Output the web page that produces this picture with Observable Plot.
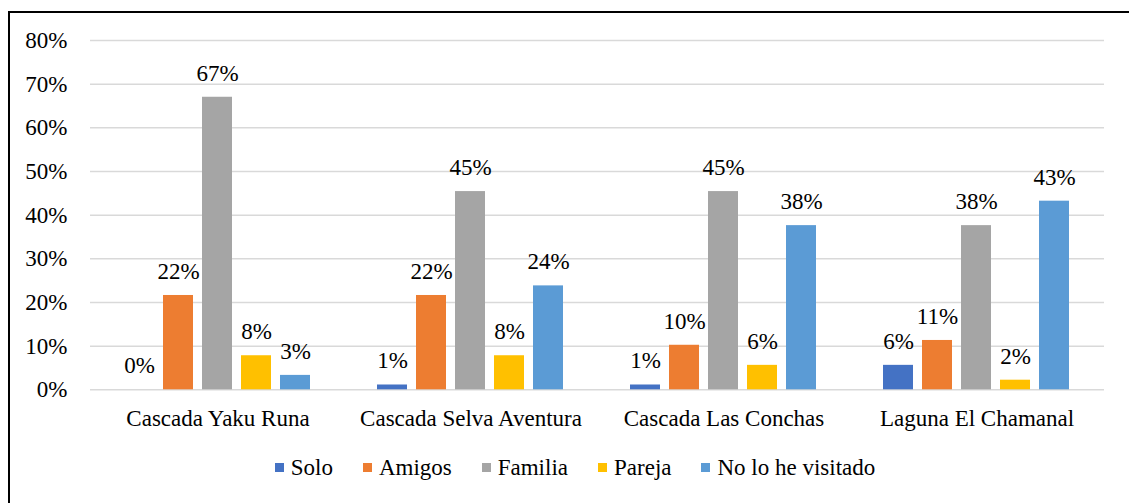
<!DOCTYPE html>
<html>
<head>
<meta charset="utf-8">
<script src="https://cdn.jsdelivr.net/npm/d3@7"></script>
<script src="https://cdn.jsdelivr.net/npm/@observablehq/plot@0.6"></script>
<style>
  html, body { margin: 0; padding: 0; background: #fff; overflow: hidden; }
  #page { position: relative; width: 1129px; height: 503px; overflow: hidden; }
  #frame { position: absolute; left: 8px; top: 11px; width: 1300px; height: 700px; border: 2px solid #000; box-sizing: border-box; }
  .layer { position: absolute; left: 0; top: 0; }
  #legend { position: absolute; left: 0; top: 451px; width: 1180px; display: flex; justify-content: center; }
  #legend, #legend * { font-family: "Liberation Serif", "Times New Roman", serif !important; font-size: 23px !important; color: #000 !important; }
  #legend > div { justify-content: center; }
  #legend span { margin-right: 30px !important; }
  #legend span > svg { margin-right: 7px !important; }
</style>
</head>
<body>
<div id="page">
  <div id="frame"></div>
  <div id="grid" class="layer"></div>
  <div id="chart" class="layer"></div>
  <div id="legend"></div>
</div>
<script>
const categories = ["Cascada Yaku Runa", "Cascada Selva Aventura", "Cascada Las Conchas", "Laguna El Chamanal"];
const seriesNames = ["Solo", "Amigos", "Familia", "Pareja", "No lo he visitado"];
const seriesColors = ["#4472C4", "#ED7D31", "#A5A5A5", "#FFC000", "#5B9BD5"];
const solo = [0, 1.1, 1.1, 5.6];
const amigos = [21.6, 21.6, 10.2, 11.3];
const familia = [67.0, 45.4, 45.4, 37.6];
const pareja = [7.8, 7.8, 5.6, 2.2];
const noVisitado = [3.3, 23.8, 37.6, 43.2];
const yTicks = [0, 10, 20, 30, 40, 50, 60, 70, 80];

const seriesValues = [solo, amigos, familia, pareja, noVisitado];
const data = [];
categories.forEach((c, i) => {
  seriesNames.forEach((s, j) => {
    data.push({cat: c, series: s, value: seriesValues[j][i]});
  });
});

const font = "Liberation Serif";
const fs = 23;
const common = {
  width: 1129,
  height: 440,
  marginLeft: 90,
  marginRight: 25,
  marginTop: 40,
  marginBottom: 50.7,
  style: {fontFamily: font, fontSize: fs + "px", color: "#000", background: "transparent", overflow: "visible"}
};

const grid = Plot.plot({
  ...common,
  x: {domain: categories, axis: null},
  y: {domain: [0, 80], label: null},
  marks: [
    Plot.ruleY(yTicks, {stroke: "#d9d9d9", strokeWidth: 1.5}),
    Plot.axisY(yTicks, {tickFormat: d => d + "%", tickSize: 0, tickPadding: 23, label: null, fontSize: fs, fontFamily: font, fill: "#000"})
  ]
});
document.getElementById("grid").appendChild(grid);

const chart = Plot.plot({
  ...common,
  fx: {domain: categories, paddingInner: 0.23, paddingOuter: 0.115, label: null},
  x: {domain: seriesNames, paddingInner: 0.23, paddingOuter: 0.115, axis: null},
  y: {domain: [0, 80], axis: null},
  color: {domain: seriesNames, range: seriesColors},
  marks: [
    Plot.axisFx({anchor: "bottom", tickSize: 0, tickPadding: 20, label: null, fontSize: fs, fontFamily: font, fill: "#000"}),
    Plot.barY(data, {fx: "cat", x: "series", y: "value", fill: "series"}),
    Plot.text(data, {fx: "cat", x: "series", y: "value", text: d => d3.format(".0f")(d.value) + "%", dy: -24, fontSize: fs, fontFamily: font, fill: "#000"})
  ]
});
document.getElementById("chart").appendChild(chart);

const legend = Plot.legend({
  color: {domain: seriesNames, range: seriesColors},
  swatchSize: 9,
  style: {fontFamily: font, fontSize: fs + "px", color: "#000"}
});
document.getElementById("legend").appendChild(legend);
</script>
</body>
</html>
